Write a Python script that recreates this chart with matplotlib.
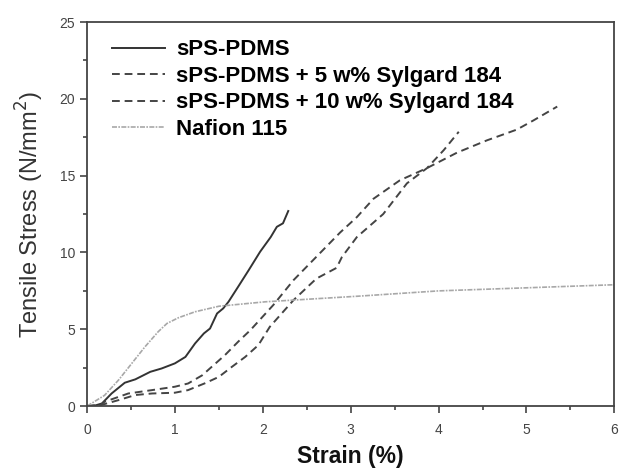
import numpy as np
import matplotlib
matplotlib.use('Agg')
import matplotlib.pyplot as plt
from matplotlib.ticker import MultipleLocator

plt.rcParams.update({'font.family': ['Liberation Sans', 'DejaVu Sans']})

# strain (%) / stress (N/mm^2)
pure_x = [0, 0.1, 0.17, 0.28, 0.43, 0.55, 0.72, 0.85, 1.0, 1.12, 1.23, 1.33, 1.40,
          1.48, 1.55, 1.61, 1.72, 1.84, 1.97, 2.09, 2.16, 2.23, 2.29]
pure_y = [0, 0.05, 0.17, 0.82, 1.52, 1.74, 2.23, 2.45, 2.78, 3.2, 4.08, 4.73, 5.05,
          6.03, 6.36, 6.79, 7.77, 8.85, 10.05, 11.0, 11.67, 11.9, 12.7]

syl5_x = [0, 0.15, 0.36, 0.55, 0.74, 1.0, 1.15, 1.34, 1.5, 1.65, 1.8, 1.95, 2.08,
          2.35, 2.61, 2.84, 2.9, 3.07, 3.37, 3.64, 3.87, 4.06, 4.23]
syl5_y = [0, 0.05, 0.39, 0.72, 0.82, 0.87, 1.04, 1.48, 1.9, 2.56, 3.2, 3.97, 5.16,
          6.9, 8.3, 9.0, 9.7, 11.0, 12.5, 14.5, 15.5, 16.67, 17.86]

syl10_x = [0, 0.15, 0.2, 0.36, 0.47, 0.74, 1.0, 1.15, 1.31, 1.42, 1.57, 1.72, 1.86,
           2.12, 2.35, 2.61, 2.88, 3.07, 3.26, 3.56, 3.87, 4.21, 4.55, 4.89, 5.08, 5.35]
syl10_y = [0, 0.05, 0.28, 0.6, 0.82, 1.04, 1.26, 1.47, 2.0, 2.56, 3.32, 4.19, 4.95,
           6.58, 8.2, 9.72, 11.3, 12.3, 13.5, 14.7, 15.5, 16.5, 17.3, 18.0, 18.6, 19.5]

naf_x = [0, 0.05, 0.2, 0.36, 0.51, 0.66, 0.81, 0.91, 1.04, 1.23, 1.5, 2.03, 3.1, 4.0, 5.0, 6.0]
naf_y = [0, 0.17, 0.7, 1.7, 2.78, 3.86, 4.84, 5.38, 5.75, 6.14, 6.5, 6.79, 7.16, 7.5, 7.7, 7.9]

fig = plt.figure(figsize=(6.19, 4.70), dpi=100)
ax = fig.add_axes([0.1405, 0.136, 0.852, 0.817])

ax.plot(pure_x, pure_y, color='#333333', lw=1.4, label='sPS-PDMS')
ax.plot(syl5_x, syl5_y, color='#444444', lw=1.4, dashes=(4, 2.5), label='sPS-PDMS + 5 w% Sylgard 184')
ax.plot(syl10_x, syl10_y, color='#444444', lw=1.4, dashes=(4, 2.5), label='sPS-PDMS + 10 w% Sylgard 184')
ax.plot(naf_x, naf_y, color='#a8a8a8', lw=1.2, dashes=(3, 0.8, 1, 0.8), label='Nafion 115')

ax.set_xlim(0, 6)
ax.set_ylim(0, 25)
ax.xaxis.set_major_locator(MultipleLocator(1))
ax.xaxis.set_minor_locator(MultipleLocator(0.5))
ax.yaxis.set_major_locator(MultipleLocator(5))
ax.yaxis.set_minor_locator(MultipleLocator(2.5))
ax.tick_params(which='both', direction='out', colors='#444444', width=1.2, labelsize=10,
               labelcolor='#444444', top=False, right=False)
ax.tick_params(which='major', length=5)
ax.tick_params(which='minor', length=3)
ax.tick_params(axis='x', which='major', pad=7)
for s in ax.spines.values():
    s.set_color('#444444')
    s.set_linewidth(1.3)

ax.set_xlabel('Strain (%)', fontsize=16.5, fontweight='bold', color='#111111', labelpad=6)
ax.set_ylabel('Tensile Stress (N/mm$^2$)', fontsize=17, color='#333333', labelpad=10)

ax.legend(loc='upper left', bbox_to_anchor=(0.047, 0.955), frameon=False, borderpad=0,
          borderaxespad=0, handlelength=2.4, handletextpad=0.5, labelspacing=0.25,
          prop={'size': 16, 'weight': 'bold'})

fig.savefig('out.png', dpi=100)
